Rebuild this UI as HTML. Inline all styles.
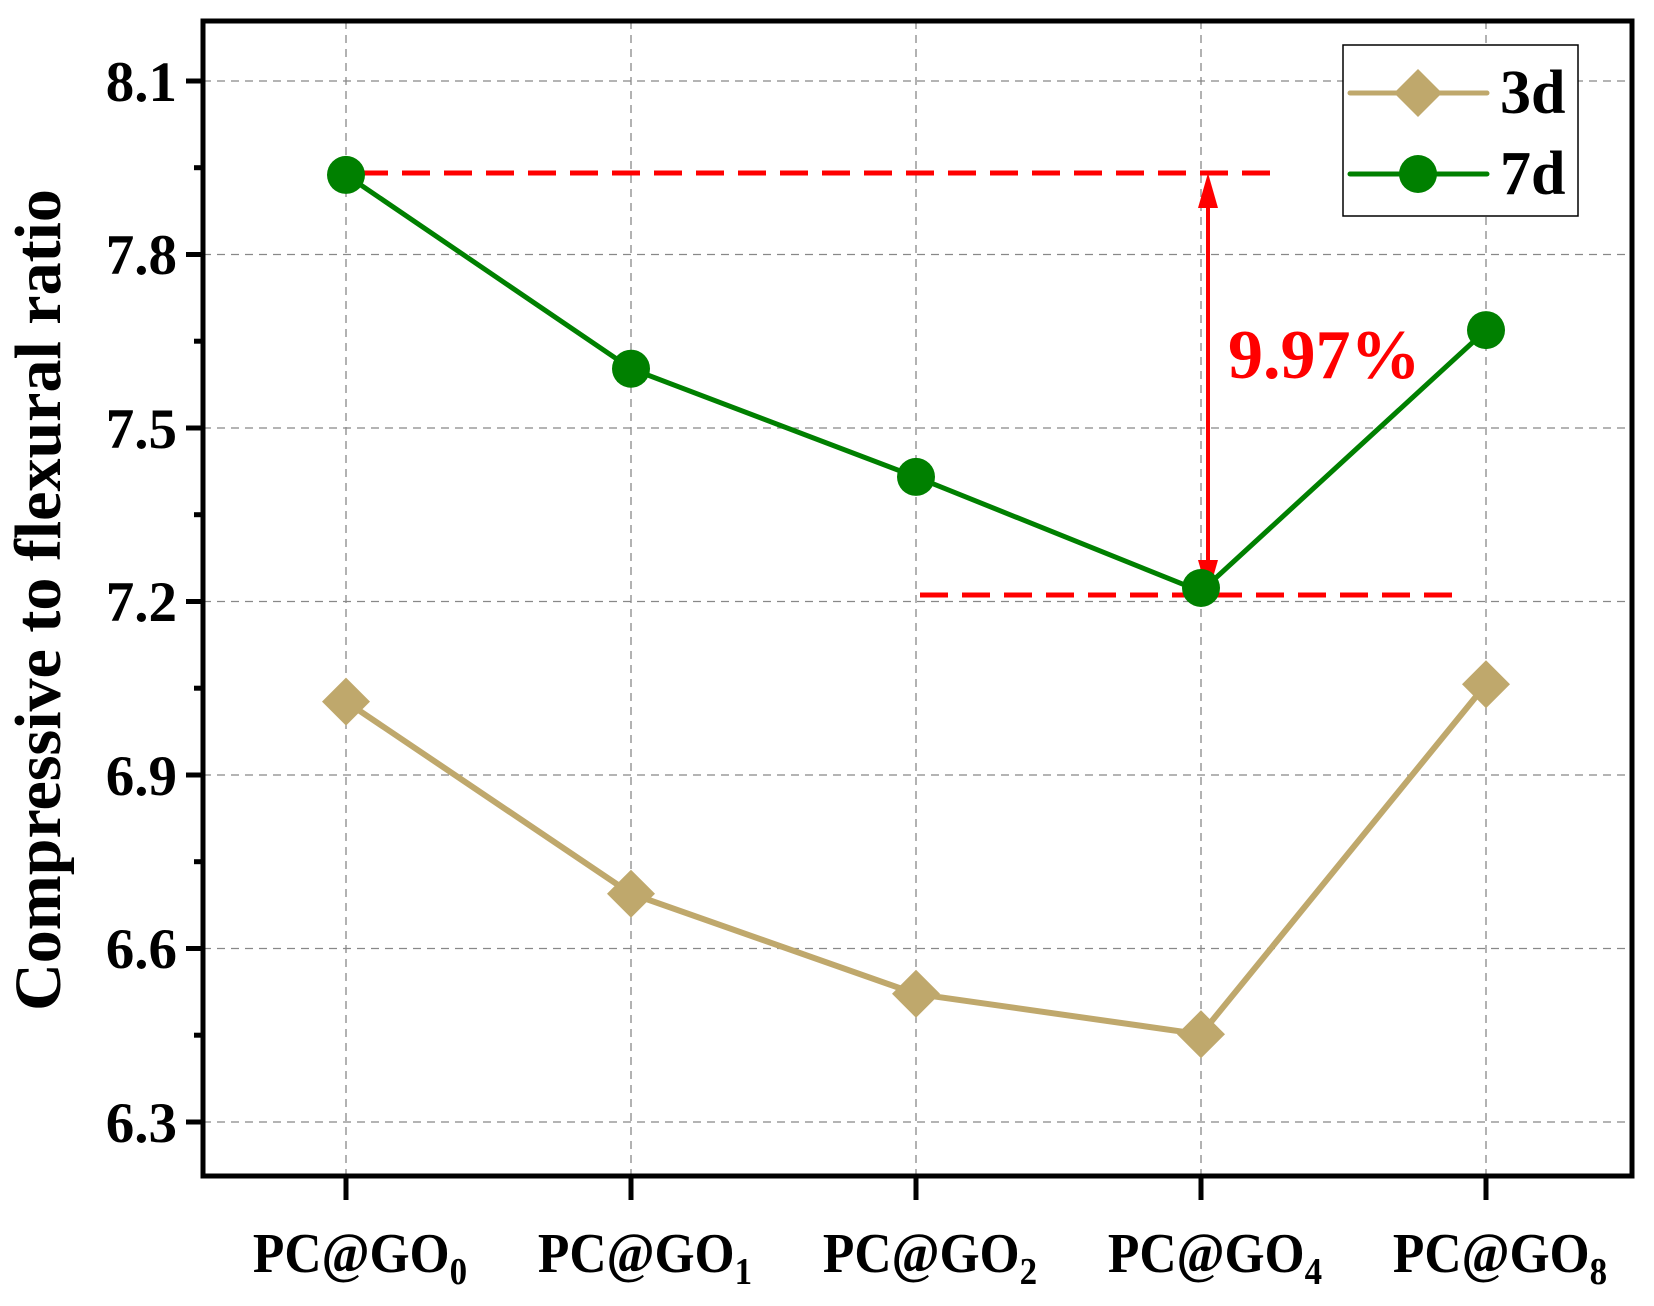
<!DOCTYPE html>
<html><head><style>body{margin:0;background:#fff}</style></head><body>
<svg width="1654" height="1301" xmlns="http://www.w3.org/2000/svg" font-family="Liberation Serif, serif" font-weight="bold">
<rect width="1654" height="1301" fill="#fff"/>
<g stroke="#888" stroke-width="1.3" stroke-dasharray="8,6">
<line x1="203" x2="1632" y1="81" y2="81"/><line x1="203" x2="1632" y1="254.5" y2="254.5"/><line x1="203" x2="1632" y1="428" y2="428"/><line x1="203" x2="1632" y1="601.5" y2="601.5"/><line x1="203" x2="1632" y1="775" y2="775"/><line x1="203" x2="1632" y1="948.5" y2="948.5"/><line x1="203" x2="1632" y1="1122" y2="1122"/>
<line x1="346" x2="346" y1="21" y2="1176"/><line x1="631" x2="631" y1="21" y2="1176"/><line x1="916" x2="916" y1="21" y2="1176"/><line x1="1201" x2="1201" y1="21" y2="1176"/><line x1="1486" x2="1486" y1="21" y2="1176"/>
</g>
<rect x="203" y="21" width="1429" height="1155" fill="none" stroke="#000" stroke-width="5"/>
<g stroke="#000" stroke-width="5">
<line x1="186" x2="203" y1="81" y2="81"/><line x1="186" x2="203" y1="254.5" y2="254.5"/><line x1="186" x2="203" y1="428" y2="428"/><line x1="186" x2="203" y1="601.5" y2="601.5"/><line x1="186" x2="203" y1="775" y2="775"/><line x1="186" x2="203" y1="948.5" y2="948.5"/><line x1="186" x2="203" y1="1122" y2="1122"/>
<line x1="194" x2="203" y1="167.7" y2="167.7"/><line x1="194" x2="203" y1="341.2" y2="341.2"/><line x1="194" x2="203" y1="514.7" y2="514.7"/><line x1="194" x2="203" y1="688.2" y2="688.2"/><line x1="194" x2="203" y1="861.7" y2="861.7"/><line x1="194" x2="203" y1="1035.2" y2="1035.2"/>
<line x1="346" x2="346" y1="1176" y2="1200"/><line x1="631" x2="631" y1="1176" y2="1200"/><line x1="916" x2="916" y1="1176" y2="1200"/><line x1="1201" x2="1201" y1="1176" y2="1200"/><line x1="1486" x2="1486" y1="1176" y2="1200"/>
</g>
<g font-size="57" text-anchor="end">
<text x="177" y="101">8.1</text><text x="177" y="274">7.8</text><text x="177" y="448">7.5</text><text x="177" y="621">7.2</text><text x="177" y="795">6.9</text><text x="177" y="968">6.6</text><text x="177" y="1142">6.3</text>
</g>
<g font-size="56" text-anchor="middle">
<text transform="translate(360,1272) scale(0.92,1)">PC@GO<tspan font-size="38" dy="12">0</tspan></text>
<text transform="translate(645,1272) scale(0.92,1)">PC@GO<tspan font-size="38" dy="12">1</tspan></text>
<text transform="translate(930,1272) scale(0.92,1)">PC@GO<tspan font-size="38" dy="12">2</tspan></text>
<text transform="translate(1215,1272) scale(0.92,1)">PC@GO<tspan font-size="38" dy="12">4</tspan></text>
<text transform="translate(1500,1272) scale(0.92,1)">PC@GO<tspan font-size="38" dy="12">8</tspan></text>
</g>
<text transform="translate(60,600) rotate(-90)" font-size="66" text-anchor="middle">Compressive to flexural ratio</text>
<g stroke="#f00" stroke-width="5" stroke-dasharray="28,14">
<line x1="360" x2="1280" y1="173" y2="173"/>
<line x1="920" x2="1465" y1="595" y2="595"/>
</g>
<line x1="1208" x2="1208" y1="200" y2="560" stroke="#f00" stroke-width="4"/>
<polygon points="1208,173 1198,208 1218,208" fill="#f00"/>
<polygon points="1208,595 1198,560 1218,560" fill="#f00"/>
<text x="1228" y="378" font-size="70" fill="#f00">9.97%</text>
<polyline points="346,701.6 631,893.7 916,993.8 1201,1034.3 1486,684.3" fill="none" stroke="#bfa86c" stroke-width="6"/>
<g fill="#bfa86c">
<polygon points="346,677.6 370,701.6 346,725.6 322,701.6"/>
<polygon points="631,869.7 655,893.7 631,917.7 607,893.7"/>
<polygon points="916,969.8 940,993.8 916,1017.8 892,993.8"/>
<polygon points="1201,1010.3 1225,1034.3 1201,1058.3 1177,1034.3"/>
<polygon points="1486,660.3 1510,684.3 1486,708.3 1462,684.3"/>
</g>
<polyline points="346,174.9 631,368.7 916,476.9 1201,591.5 1486,330.1" fill="none" stroke="#008000" stroke-width="5"/>
<g fill="#008000">
<circle cx="346" cy="174.9" r="19"/><circle cx="631" cy="368.7" r="19"/><circle cx="916" cy="476.9" r="19"/><circle cx="1201" cy="588" r="19"/><circle cx="1486" cy="330.1" r="19"/>
</g>
<rect x="1343" y="45" width="235" height="171" fill="#fff" stroke="#000" stroke-width="1.5"/>
<line x1="1350" x2="1487" y1="93" y2="93" stroke="#bfa86c" stroke-width="5" stroke-linecap="round"/>
<polygon points="1418,69 1442,93 1418,117 1394,93" fill="#bfa86c"/>
<line x1="1350" x2="1487" y1="174" y2="174" stroke="#008000" stroke-width="5" stroke-linecap="round"/>
<circle cx="1418" cy="174" r="19" fill="#008000"/>
<text x="1500" y="113" font-size="62">3d</text>
<text x="1500" y="194" font-size="62">7d</text>
</svg>
</body></html>
